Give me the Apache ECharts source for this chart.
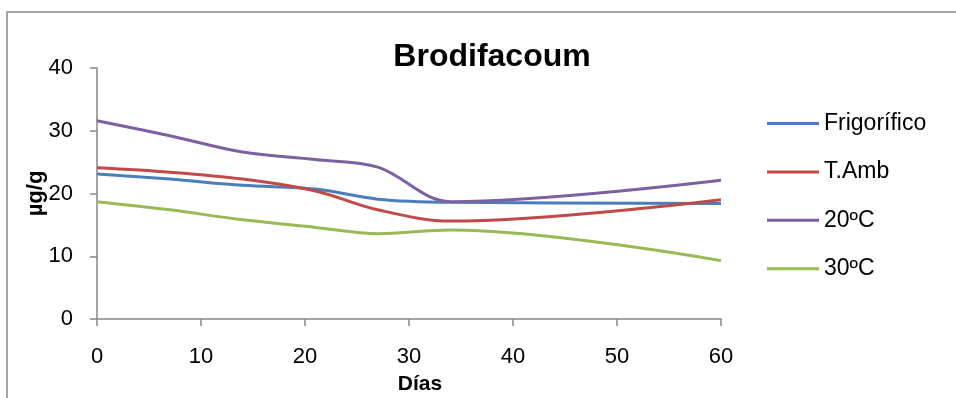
<!DOCTYPE html>
<html>
<head>
<meta charset="utf-8">
<script src="https://cdn.jsdelivr.net/npm/echarts@6/dist/echarts.min.js"></script>
<style>
html,body{margin:0;padding:0;background:#fff;}
#chart{width:956px;height:398px;}
</style>
</head>
<body>
<div id="chart"></div>
<script>
const days = [0, 7, 14, 21, 27, 34, 60];
const seriesNames = ['Frigorífico', 'T.Amb', '20ºC', '30ºC'];
const frigorifico = [23.1, 22.3, 21.3, 20.7, 19.1, 18.6, 18.4];
const tAmb = [24.1, 23.4, 22.3, 20.4, 17.4, 15.6, 19.0];
const c20 = [31.6, 29.2, 26.6, 25.4, 24.2, 18.7, 22.1];
const c30 = [18.7, 17.4, 15.8, 14.6, 13.6, 14.2, 9.3];
const colors = ['#4A7EBB', '#BE4B48', '#7D60A0', '#98B954'];
const yTicks = [0, 10, 20, 30, 40];
const xTicks = [0, 10, 20, 30, 40, 50, 60];

const allValues = [frigorifico, tAmb, c20, c30];
const font = 'Liberation Sans, Arial, sans-serif';

const chart = echarts.init(document.getElementById('chart'), null, {renderer: 'canvas'});
chart.setOption({
  animation: false,
  backgroundColor: '#fff',
  title: {
    text: 'Brodifacoum',
    left: 487, top: 36, textAlign: 'center',
    textStyle: {fontFamily: font, fontWeight: 'bold', fontSize: 32, color: '#000'}
  },
  graphic: [{
    type: 'rect',
    shape: {x: 7, y: 12, width: 1000, height: 500},
    style: {fill: 'none', stroke: '#888', lineWidth: 1.5},
    silent: true
  }],
  legend: {
    orient: 'vertical',
    left: 762, top: 107,
    itemWidth: 52, itemHeight: 3,
    itemGap: 25.4,
    icon: 'rect',
    textStyle: {fontFamily: font, fontSize: 23, color: '#000'},
    data: seriesNames
  },
  grid: {left: 97, right: 235, top: 68, bottom: 79, outerBoundsMode: 'none', containLabel: false},
  xAxis: {
    type: 'value', min: xTicks[0], max: xTicks[xTicks.length - 1], interval: 10,
    name: 'Días', nameLocation: 'middle', nameGap: 55, nameMoveOverlap: false,
    nameTextStyle: {fontFamily: font, fontWeight: 'bold', fontSize: 21, color: '#000', padding: [0, 0, 0, 22]},
    axisLine: {show: true, lineStyle: {color: '#868686', width: 1.5}},
    axisTick: {show: true, length: 7, lineStyle: {color: '#868686', width: 1.5}},
    axisLabel: {fontFamily: font, fontSize: 22, color: '#000', margin: 27},
    splitLine: {show: false}
  },
  yAxis: {
    type: 'value', min: yTicks[0], max: yTicks[yTicks.length - 1], interval: 10,
    name: 'µg/g', nameLocation: 'middle', nameGap: 50, nameMoveOverlap: false,
    nameTextStyle: {fontFamily: font, fontWeight: 'bold', fontSize: 22, color: '#000'},
    axisLine: {show: true, lineStyle: {color: '#868686', width: 1.5}},
    axisTick: {show: true, length: 7, lineStyle: {color: '#868686', width: 1.5}},
    axisLabel: {fontFamily: font, fontSize: 22, color: '#000', margin: 24},
    splitLine: {show: false}
  },
  series: seriesNames.map((n, i) => ({
    name: n,
    type: 'line',
    smooth: 0.35,
    symbol: 'none',
    color: colors[i],
    lineStyle: {width: 3, color: colors[i]},
    data: days.map((d, j) => [d, allValues[i][j]])
  }))
});
</script>
</body>
</html>
